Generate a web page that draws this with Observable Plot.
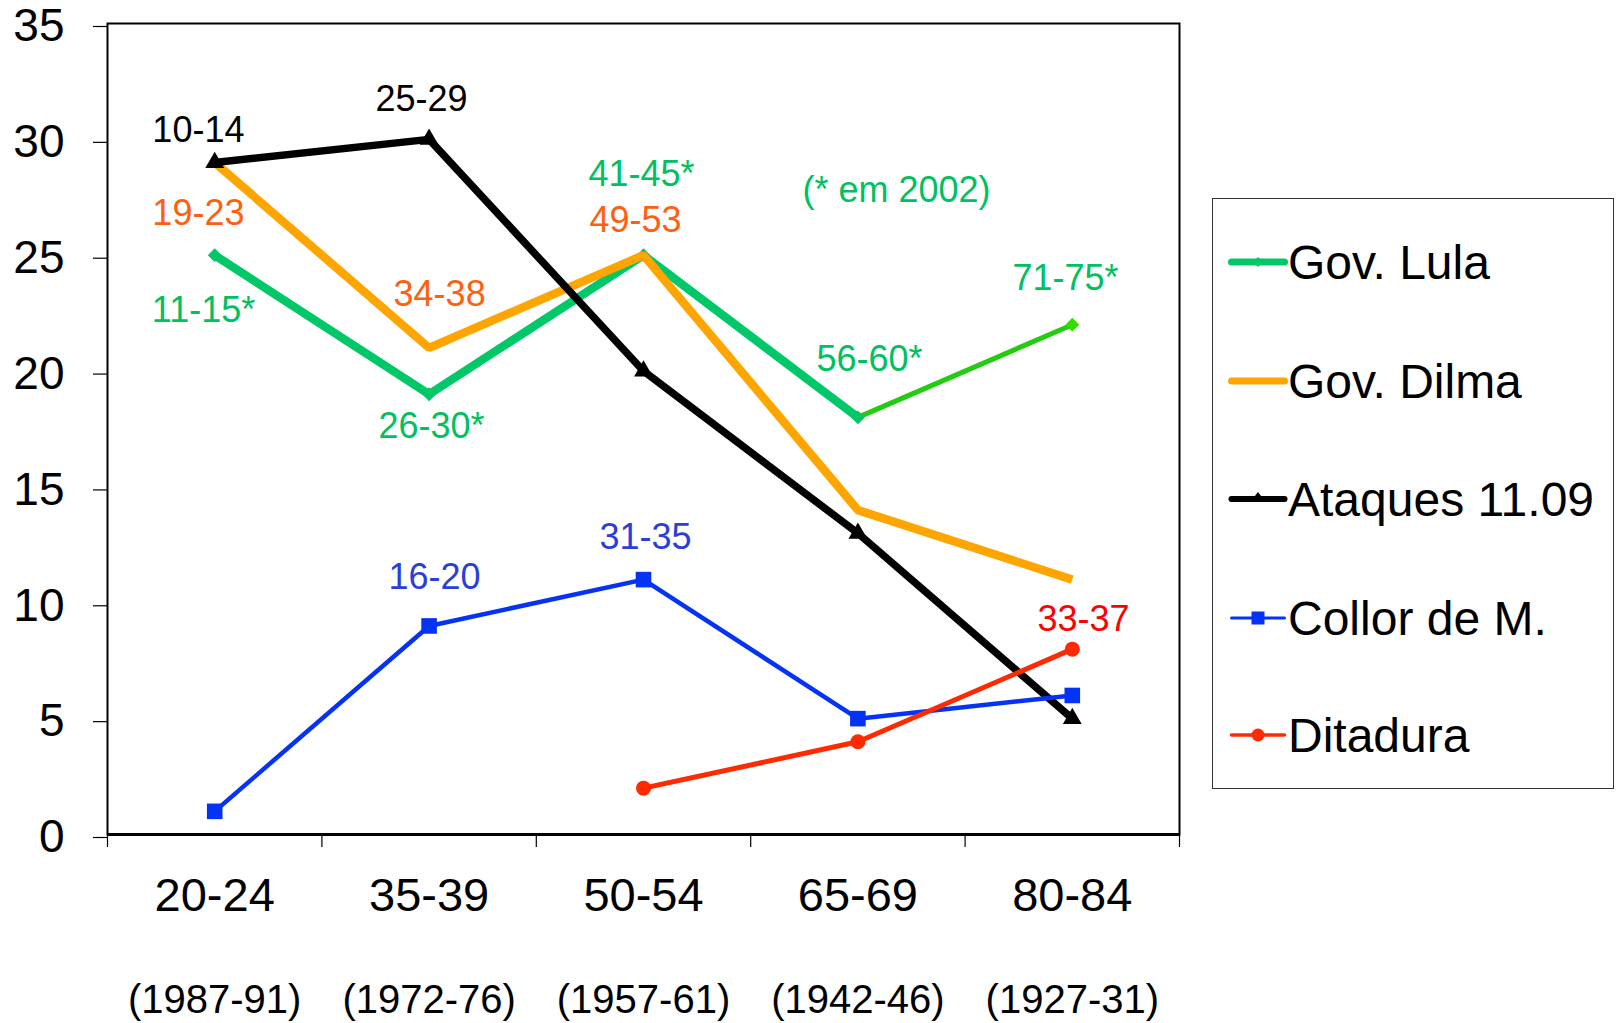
<!DOCTYPE html>
<html>
<head>
<meta charset="utf-8">
<script src="https://cdn.jsdelivr.net/npm/d3@7"></script>
<script src="https://cdn.jsdelivr.net/npm/@observablehq/plot@0.6"></script>
<style>
  html, body { margin: 0; padding: 0; background: #fff; }
  #wrap { position: relative; width: 1620px; height: 1023px; overflow: hidden; font-family: "Liberation Sans", Arial, sans-serif; }
  #legend { position: absolute; left: 1212px; top: 198px; width: 402px; height: 591px; border: 1.5px solid #333; background: #fff; box-sizing: border-box; }
  .lg-row { position: absolute; left: 0; height: 60px; display: flex; align-items: center; }
  .lg-row span { font-size: 48px; color: #000; margin-left: 0px; white-space: nowrap; }
</style>
</head>
<body>
<div id="wrap"></div>
<script>
// ---- Data ----
const categories = ["20-24", "35-39", "50-54", "65-69", "80-84"];
const cohorts = ["(1987-91)", "(1972-76)", "(1957-61)", "(1942-46)", "(1927-31)"];
const seriesNames = ["Gov. Lula", "Gov. Dilma", "Ataques 11.09", "Collor de M.", "Ditadura"];
const lula = [25, 19, 25, 18, 22];
const dilma = [29, 21, 25, 14, 11];
const ataques = [29, 30, 20, 13, 5];
const collor = [1, 9, 11, 5, 6];
const ditadura = [null, null, 2, 4, 8];
const yTicks = [0, 5, 10, 15, 20, 25, 30, 35];

// annotation labels: text, position in category units (0.5 = centre of first category), value
const labelTexts = ["10-14", "25-29", "19-23", "11-15*", "34-38", "26-30*", "41-45*", "49-53", "(* em 2002)", "56-60*", "71-75*", "16-20", "31-35", "33-37"];
const labelX =     [0.424, 1.465, 0.424, 0.448, 1.549, 1.511, 2.491, 2.463, 3.680, 3.554, 4.468, 1.525, 2.509, 4.552];
const labelY =     [30.4, 31.7, 26.8, 22.6, 23.3, 17.6, 28.5, 26.5, 27.8, 20.5, 24.0, 11.1, 12.8, 9.3];
const labelSeries = ["Ataques 11.09", "Ataques 11.09", "Gov. Dilma", "Gov. Lula", "Gov. Dilma", "Gov. Lula", "Gov. Lula", "Gov. Dilma", "Gov. Lula", "Gov. Lula", "Gov. Lula", "Collor de M.", "Collor de M.", "Ditadura"];

// ---- Styles ----
const style = {
  "Gov. Lula":     {color: "#00c868", width: 8.5, symbol: "square", r: 5.5, label: "#00c060"},
  "Gov. Dilma":    {color: "#ffa500", width: 8.5, symbol: null,     r: 0,   label: "#ff6010"},
  "Ataques 11.09": {color: "#000000", width: 7.5, symbol: "triangle", r: 7, label: "#000000"},
  "Collor de M.":  {color: "#0433f5", width: 4.5, symbol: "square", r: 8.8, label: "#2a3fd8"},
  "Ditadura":      {color: "#ff2a00", width: 5,   symbol: "circle", r: 7.5, label: "#ff0000"}
};
const lulaTail = {color: "#22cc10", width: 5, marker: "#33dd00"};

const values = [lula, dilma, ataques, collor, ditadura];
const rows = [];
seriesNames.forEach((s, k) => values[k].forEach((v, i) => {
  if (v != null) rows.push({series: s, i, x: i + 0.5, y: v});
}));
const labels = labelTexts.map((t, j) => ({text: t, x: labelX[j], y: labelY[j], series: labelSeries[j]}));

const marks = [];
seriesNames.forEach(s => {
  const st = style[s];
  const d = rows.filter(r => r.series === s);
  if (s === "Gov. Lula") {
    marks.push(Plot.line(d.filter(r => r.i <= 3), {x: "x", y: "y", stroke: st.color, strokeWidth: st.width, strokeLinejoin: "miter", strokeLinecap: "butt"}));
    marks.push(Plot.line(d.filter(r => r.i >= 3), {x: "x", y: "y", stroke: lulaTail.color, strokeWidth: lulaTail.width, strokeLinecap: "butt"}));
    marks.push(Plot.dot(d.filter(r => r.i < 4), {x: "x", y: "y", symbol: "square", r: st.r, rotate: 45, fill: st.color, stroke: "none"}));
    marks.push(Plot.dot(d.filter(r => r.i === 4), {x: "x", y: "y", symbol: "square", r: st.r, rotate: 45, fill: lulaTail.marker, stroke: "none"}));
  } else {
    marks.push(Plot.line(d, {x: "x", y: "y", stroke: st.color, strokeWidth: st.width, strokeLinejoin: "miter", strokeLinecap: "butt"}));
    if (st.symbol) marks.push(Plot.dot(d, {x: "x", y: "y", symbol: st.symbol, r: st.r, fill: st.color, stroke: "none"}));
  }
});

const chart = Plot.plot({
  width: 1620,
  height: 1023,
  marginLeft: 107,
  marginRight: 441,
  marginTop: 23,
  marginBottom: 189,
  style: {fontFamily: "'Liberation Sans', Arial, sans-serif", background: "#fff", color: "#000", overflow: "visible"},
  x: {type: "linear", domain: [0, categories.length], axis: null, label: null},
  y: {domain: [0, 35], axis: null, label: null},
  marks: [
    Plot.frame({stroke: "#000", strokeWidth: 2}),
    ...marks,
    Plot.text(labels, {x: "x", y: "y", text: "text", fill: d => style[d.series].label, fontSize: 36, textAnchor: "middle"}),
    Plot.ruleY([0], {stroke: "#000", strokeWidth: 3}),
    Plot.axisY({ticks: yTicks, label: null, tickSize: 14, tickPadding: 29, fontSize: 46, stroke: "#000", strokeWidth: 1.2, dy: 3, tickFormat: d => String(d)}),
    Plot.axisX({ticks: d3.range(0, categories.length + 1), label: null, tickSize: 13, tickFormat: () => "", stroke: "#000", strokeWidth: 1.2}),
    Plot.axisX({ticks: categories.map((c, i) => i + 0.5), label: null, tickSize: 0, tickPadding: 43, fontSize: 47, tickFormat: d => categories[Math.floor(d)]}),
    Plot.axisX({ticks: categories.map((c, i) => i + 0.5), label: null, tickSize: 0, tickPadding: 150, fontSize: 40, tickFormat: d => cohorts[Math.floor(d)]})
  ]
});

const wrap = document.getElementById("wrap");
wrap.appendChild(chart);

// ---- Legend ----
const legend = document.createElement("div");
legend.id = "legend";
const rowTops = [33, 152, 270, 389, 506];
seriesNames.forEach((s, k) => {
  const st = style[s];
  const row = document.createElement("div");
  row.className = "lg-row";
  row.style.top = rowTops[k] + "px";
  row.style.left = "15px";
  const ns = "http://www.w3.org/2000/svg";
  const svg = document.createElementNS(ns, "svg");
  svg.setAttribute("width", 60); svg.setAttribute("height", 30);
  const ln = document.createElementNS(ns, "line");
  ln.setAttribute("x1", 3.5); ln.setAttribute("x2", 56.5); ln.setAttribute("y1", 15); ln.setAttribute("y2", 15);
  ln.setAttribute("stroke", st.color); ln.setAttribute("stroke-width", st.width - 1.5); ln.setAttribute("stroke-linecap", "round");
  svg.appendChild(ln);
  if (st.symbol) {
    let m;
    if (s === "Gov. Lula") {
      m = document.createElementNS(ns, "rect");
      m.setAttribute("x", 26.5); m.setAttribute("y", 11.5); m.setAttribute("width", 7); m.setAttribute("height", 7);
      m.setAttribute("transform", "rotate(45 30 15)");
    } else if (st.symbol === "triangle") {
      m = document.createElementNS(ns, "path");
      m.setAttribute("d", "M30,8 L37,17 L23,17 Z");
    } else if (st.symbol === "square") {
      m = document.createElementNS(ns, "rect");
      m.setAttribute("x", 23.5); m.setAttribute("y", 8.5); m.setAttribute("width", 13); m.setAttribute("height", 13);
    } else {
      m = document.createElementNS(ns, "circle");
      m.setAttribute("cx", 30); m.setAttribute("cy", 15); m.setAttribute("r", 6.5);
    }
    m.setAttribute("fill", st.color);
    svg.appendChild(m);
  }
  row.appendChild(svg);
  const t = document.createElement("span");
  t.textContent = s;
  row.appendChild(t);
  legend.appendChild(row);
});
wrap.appendChild(legend);
</script>
</body>
</html>
